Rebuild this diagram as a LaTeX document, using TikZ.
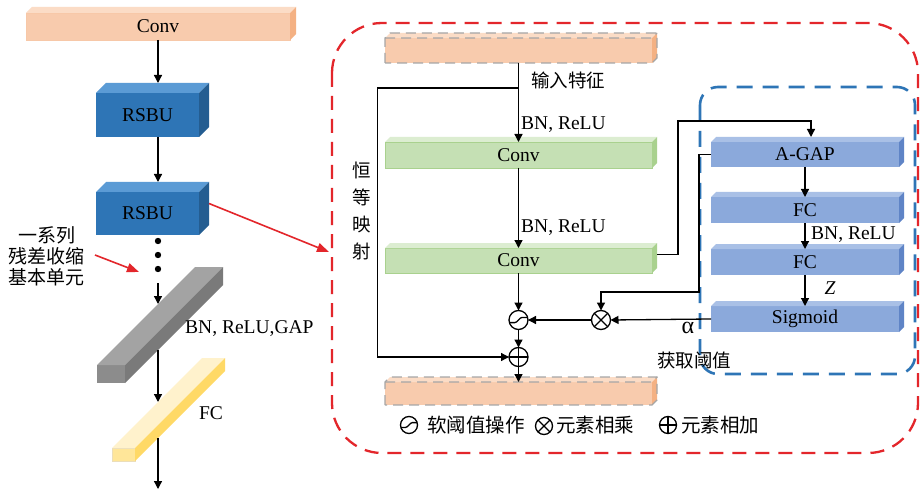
\documentclass[tikz,border=0pt]{standalone}
\usepackage{fontspec}
\setmainfont{Liberation Serif}
\newfontfamily\cjk{Noto Sans CJK SC}
\usetikzlibrary{arrows.meta,calc}
\definecolor{myred}{HTML}{E3262B}
\definecolor{myblue}{HTML}{2E75B6}
\definecolor{orfront}{HTML}{F8CBAD}
\definecolor{ortop}{HTML}{FBDCC6}
\definecolor{orside}{HTML}{F4B183}
\definecolor{rsfront}{HTML}{2E75B6}
\definecolor{rstop}{HTML}{5B9BD5}
\definecolor{rsside}{HTML}{245D91}
\definecolor{grfront}{HTML}{C5E0B4}
\definecolor{grtop}{HTML}{DCEDD1}
\definecolor{grside}{HTML}{A9D18E}
\definecolor{blfront}{HTML}{8BA9DB}
\definecolor{bltop}{HTML}{A9C0E6}
\definecolor{blside}{HTML}{5F84C6}
\definecolor{gyend}{HTML}{8C8C8C}
\definecolor{gytop}{HTML}{A3A3A3}
\definecolor{gyside}{HTML}{7A7A7A}
\definecolor{yeend}{HTML}{FFE699}
\definecolor{yetop}{HTML}{FFF2CC}
\definecolor{yeside}{HTML}{FFD966}
\newcommand{\cubefaces}[4]{%
 \fill[#3] (#1.north west) -- ++(#2,-#2) -- ($(#1.north east)+(#2,-#2)$) -- (#1.north east) -- cycle;
 \fill[#4] (#1.north east) -- ++(#2,-#2) -- ($(#1.south east)+(#2,-#2)$) -- (#1.south east) -- cycle;}
\tikzset{
 blk/.style={inner sep=0pt, outer sep=0pt},
 arr/.style={-{Triangle[length=8pt,width=8pt]}, line width=1.3pt},
 redarr/.style={-{Triangle[length=12pt,width=9pt]}, line width=1.6pt, draw=myred, fill=myred},
 opc/.style={circle, draw, line width=1.3pt, minimum size=19pt, inner sep=0pt, outer sep=0pt},
 lgc/.style={circle, draw, line width=1.3pt, minimum size=17pt, inner sep=0pt, outer sep=0pt},
 reddash/.style={draw=myred, line width=2.3pt, dash pattern=on 14pt off 9pt},
 bluedash/.style={draw=myblue, line width=2.6pt, dash pattern=on 16pt off 10pt},
 graydash/.style={draw=gray!70, line width=1.2pt, dash pattern=on 10pt off 6pt},
 txt/.style={inner sep=0pt},
 zh/.style={inner sep=0pt, font=\cjk\fontsize{18.5}{21}\selectfont},
}
\begin{document}
\begin{tikzpicture}[x=1pt,y=-1pt, font=\fontsize{19.5}{22}\selectfont]
\useasboundingbox (0,0) rectangle (923,489);
\fill[white] (0,0) rectangle (923,489);

% ---------- left column ----------
\node[blk, fill=orfront, draw=orside!70, minimum width=264, minimum height=27] (lconv) at (158,26.5) {Conv};
\cubefaces{lconv}{6}{ortop}{orside}
\node[blk, fill=rsfront, minimum width=103, minimum height=44] (rsbu1) at (147.5,115) {RSBU};
\cubefaces{rsbu1}{10}{rstop}{rsside}
\node[blk, fill=rsfront, minimum width=103, minimum height=43] (rsbu2) at (147.5,213.5) {RSBU};
\cubefaces{rsbu2}{10}{rstop}{rsside}

\path (rsbu1.north) ++(0,-10) coordinate (r1top);
\path (rsbu2.north) ++(0,-10) coordinate (r2top);
\draw[arr] (lconv.south) -- (lconv.south |- r1top);
\draw[arr] (lconv.south |- rsbu1.south) -- (lconv.south |- r2top);

\foreach \yy in {241,255,269} \fill (158,\yy) circle (3.2pt);

% gray bar
\node[blk, fill=gyend, minimum width=28, minimum height=18] (gapb) at (111,374) {};
\cubefaces{gapb}{98}{gytop}{gyside}
% yellow bar
\node[blk, fill=yeend, draw=yeside!80!black!40, line width=0.4pt, minimum width=23, minimum height=13] (fcb) at (123.5,454.5) {};
\cubefaces{fcb}{90}{yetop}{yeside}

\coordinate (d3) at (158,283);
\coordinate (g1) at (158,304);
\coordinate (g2) at (158,350);
\coordinate (y1) at (158,402);
\coordinate (y2) at (158,438);
\coordinate (yend) at (158,489);
\draw[arr] (d3) -- (g1);
\draw[arr] (g2) -- (y1);
\draw[arr] (y2) -- (yend);

\node[txt, anchor=west] (lbgap) at (185,329) {BN, ReLU,GAP};
\node[txt] (lbfc) at (211,413) {FC};

\node[zh, align=center, font=\cjk\fontsize{19}{21}\selectfont] (series) at (47,256) {一系列\\残差收缩\\基本单元};
\coordinate (sa) at (95,255);
\coordinate (sb) at (139,272);
\draw[redarr] (sa) -- (sb);

% ---------- red dashed block ----------
\draw[reddash, rounded corners=50] (332,23) rectangle (918,453);
\coordinate (ra) at ($(rsbu2.east)+(10,-10)$);
\coordinate (rb) at (329,252);
\draw[redarr] (ra) -- (rb);

\node[blk, fill=orfront, minimum width=267, minimum height=25] (otop) at (518.5,50.5) {};
\cubefaces{otop}{5}{ortop}{orside}
\draw[graydash] (otop.south west) -- (otop.north west) -- ++(5,-5) -- ($(otop.north east)+(5,-5)$) -- ($(otop.south east)+(5,-5)$) -- (otop.south east) -- cycle;
\draw[graydash] (otop.north west) -- (otop.north east) -- ++(5,-5);

\node[blk, fill=grfront, draw=grside, line width=0.5pt, minimum width=267, minimum height=26] (c1) at (518.5,155) {Conv};
\cubefaces{c1}{5}{grtop}{grside}
\node[blk, fill=grfront, draw=grside, line width=0.5pt, minimum width=267, minimum height=25] (c2) at (518.5,260.5) {Conv};
\cubefaces{c2}{5}{grtop}{grside}

\node[blk, fill=orfront, minimum width=267, minimum height=23] (obot) at (518.5,393.5) {};
\cubefaces{obot}{5}{ortop}{orside}
\draw[graydash] (obot.south west) -- (obot.north west) -- ++(5,-5) -- ($(obot.north east)+(5,-5)$) -- ($(obot.south east)+(5,-5)$) -- (obot.south east) -- cycle;
\draw[graydash] (obot.north west) -- (obot.north east) -- ++(5,-5);

\node[opc] (soft) at (518.5,320) {};
\draw[line width=1.3pt, rounded corners=1pt] ($(soft.center)+(-9.2,2.6)$) -- ++(6.5,0) -- ++(5.4,-5.2) -- ++(6.5,0);
\node[opc] (plus) at (518.5,357) {};
\draw[line width=1.3pt] (plus.north) -- (plus.south) (plus.west) -- (plus.east);
\node[opc] (mul) at (601,320) {};
\draw[line width=1.3pt] (mul.north west) -- (mul.south east) (mul.north east) -- (mul.south west);

\node[zh] (inlab) at (568,80) {输入特征};
\node[txt, anchor=west] (bn1) at (521,125) {BN, ReLU};
\node[txt, anchor=west] (bn2) at (521,228) {BN, ReLU};
\node[zh, align=center, font=\cjk\fontsize{18.5}{27}\selectfont] (ident) at (362,211) {恒\\等\\映\\射};

% ---------- blue dashed block ----------
\draw[bluedash, rounded corners=18] (700,87) rectangle (915,374);
\node[blk, fill=blfront, minimum width=188, minimum height=25] (agap) at (805,154.5) {A-GAP};
\cubefaces{agap}{5}{bltop}{blside}
\node[blk, fill=blfront, minimum width=188, minimum height=26] (fc1) at (805,210) {FC};
\cubefaces{fc1}{5}{bltop}{blside}
\node[blk, fill=blfront, minimum width=188, minimum height=26] (fc2) at (805,262) {FC};
\cubefaces{fc2}{5}{bltop}{blside}
\node[blk, fill=blfront, minimum width=188, minimum height=26] (sig) at (805,319) {Sigmoid};
\cubefaces{sig}{5}{bltop}{blside}

\node[txt, anchor=west] (bn3) at (811,235) {BN, ReLU};
\node[txt] (zlab) at (830,288) {\textit{Z}};
\node[txt, font=\fontsize{24}{26}\selectfont] (alab) at (688,328) {α};
\node[zh] (thlab) at (694,360) {获取阈值};

% ---------- connectors ----------
\coordinate (br) at (518.5,88);
\draw[arr] (otop.south) -- (otop.south |- c1.north);
\draw[arr] (br) -- ++(-141,0) |- (plus.west);
\draw[arr] (c1.south) -- (c1.south |- c2.north);
\draw[arr] (c2.south) -- (soft.north);
\draw[arr] (soft.south) -- (plus.north);
\draw[arr] (plus.south) -- (plus.south |- obot.north);
\draw[arr] (mul.west) -- (soft.east);
\draw[arr] (sig.west) -- (mul.east);
\coordinate (k1) at (678,121);
\draw[arr] ($(c2.east)+(5,-6)$) -| (k1) -| ($(agap.north)+(6,-5)$);
\coordinate (k2) at (699,292);
\draw[arr] (agap.west) -| (k2) -| (mul.north);
\draw[arr] (agap.south) -- (agap.south |- fc1.north);
\draw[arr] (fc1.south) -- (fc1.south |- fc2.north);
\draw[arr] (fc2.south) -- (fc2.south |- sig.north);

% ---------- legend ----------
\node[lgc] (lg1) at (409,425) {};
\draw[line width=1.3pt, rounded corners=1pt] ($(lg1.center)+(-8.2,2.4)$) -- ++(5.8,0) -- ++(4.8,-4.8) -- ++(5.8,0);
\node[zh, anchor=west, font=\cjk\fontsize{19.5}{22}\selectfont] (lgt1) at (427,425) {软阈值操作};
\node[lgc] (lg2) at (544,426) {};
\draw[line width=1.3pt] (lg2.north west) -- (lg2.south east) (lg2.north east) -- (lg2.south west);
\node[zh, anchor=west, font=\cjk\fontsize{19.5}{22}\selectfont] (lgt2) at (556,425) {元素相乘};
\node[lgc] (lg3) at (668,425) {};
\draw[line width=1.3pt] (lg3.north) -- (lg3.south) (lg3.west) -- (lg3.east);
\node[zh, anchor=west, font=\cjk\fontsize{19.5}{22}\selectfont] (lgt3) at (681,425) {元素相加};
\end{tikzpicture}
\end{document}
